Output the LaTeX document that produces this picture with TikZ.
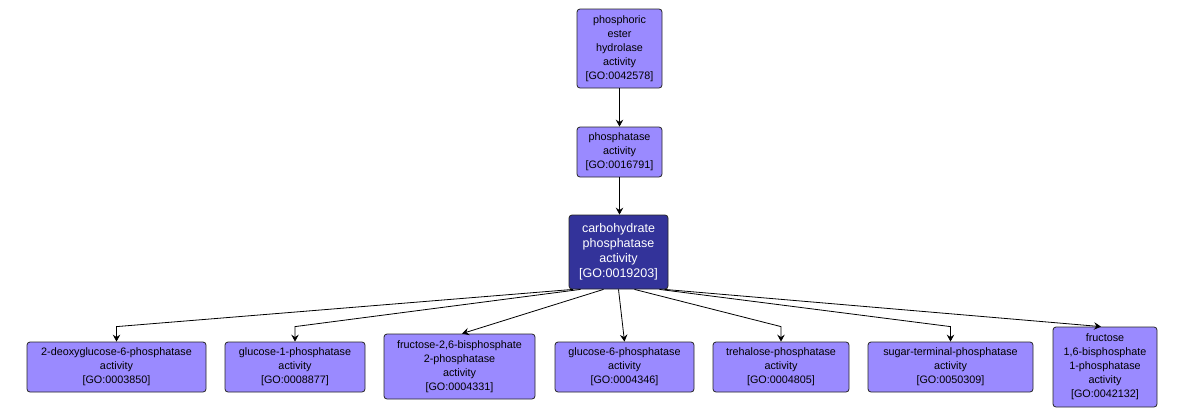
\documentclass[tikz,border=0pt]{standalone}
\usepackage{fontspec}
\setmainfont{Liberation Sans}
\usetikzlibrary{arrows.meta}
\definecolor{lightgo}{HTML}{9A8AFF}
\definecolor{darkgo}{HTML}{33339A}
\begin{document}
\begin{tikzpicture}[x=1pt,y=-1pt,
  goterm/.style={draw=black!85, line width=0.8pt, rounded corners=3pt, fill=lightgo,
    align=center, inner sep=0pt, font=\fontsize{10.8}{14}\selectfont},
  gomain/.style={goterm, fill=darkgo, text=white, font=\fontsize{12.5}{15}\selectfont},
  arr/.style={draw=black, line width=0.8pt, -{Stealth[length=7pt,width=7.5pt,inset=2.5pt]}}]
\fill[white] (0,0) rectangle (1186,416);
\useasboundingbox (0,0) rectangle (1186,416);

\node[goterm, minimum width=85pt, minimum height=79pt] (top) at (619.5,48.5)
  {phosphoric\\ester\\hydrolase\\activity\\{}[GO:0042578]};
\node[goterm, minimum width=85pt, minimum height=50pt] (phos) at (619.5,152)
  {phosphatase\\activity\\{}[GO:0016791]};
\node[gomain, minimum width=99pt, minimum height=74pt] (carb) at (618.5,252)
  {carbohydrate\\phosphatase\\activity\\{}[GO:0019203]};

\node[goterm, minimum width=179pt, minimum height=50pt] (b1) at (116.5,367)
  {2-deoxyglucose-6-phosphatase\\activity\\{}[GO:0003850]};
\node[goterm, minimum width=140pt, minimum height=50pt] (b2) at (295,367)
  {glucose-1-phosphatase\\activity\\{}[GO:0008877]};
\node[goterm, minimum width=151pt, minimum height=65pt] (b3) at (459.5,366.5)
  {fructose-2,6-bisphosphate\\2-phosphatase\\activity\\{}[GO:0004331]};
\node[goterm, minimum width=139pt, minimum height=50pt] (b4) at (624.5,367)
  {glucose-6-phosphatase\\activity\\{}[GO:0004346]};
\node[goterm, minimum width=136pt, minimum height=50pt] (b5) at (781,367)
  {trehalose-phosphatase\\activity\\{}[GO:0004805]};
\node[goterm, minimum width=165pt, minimum height=50pt] (b6) at (950.5,367)
  {sugar-terminal-phosphatase\\activity\\{}[GO:0050309]};
\node[goterm, minimum width=104pt, minimum height=80pt] (b7) at (1105,367)
  {fructose\\1,6-bisphosphate\\1-phosphatase\\activity\\{}[GO:0042132]};

\draw[arr] (top.south) -- (phos.north);
\draw[arr] (phos.south) -- (phos.south |- carb.north);

\draw[arr] ([xshift=-45.5pt]carb.south) -- ([yshift=15pt]b1.north) -- (b1.north);
\draw[arr] ([xshift=-38pt]carb.south) -- ([yshift=15pt]b2.north) -- (b2.north);
\draw[arr] ([xshift=-15pt]carb.south) -- ([xshift=2.5pt]b3.north);
\draw[arr] (carb.south) -- (b4.north);
\draw[arr] ([xshift=16pt]carb.south) -- ([yshift=15pt]b5.north) -- (b5.north);
\draw[arr] ([xshift=41pt]carb.south) -- ([yshift=15pt]b6.north) -- (b6.north);
\draw[arr] ([xshift=46pt]carb.south) -- ([xshift=-4pt]b7.north);
\end{tikzpicture}
\end{document}
